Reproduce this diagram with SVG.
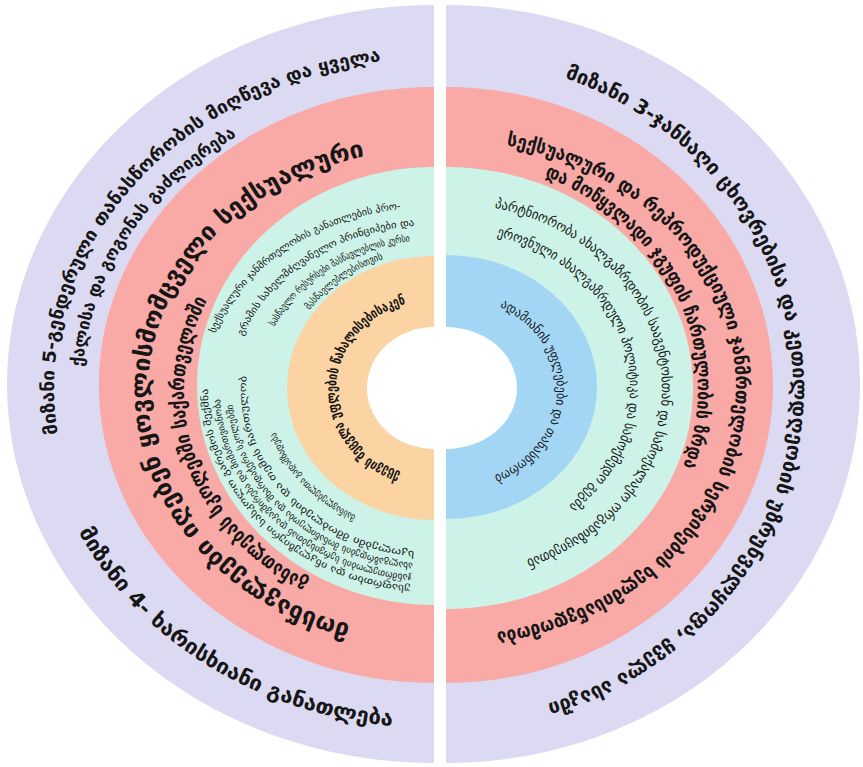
<svg xmlns="http://www.w3.org/2000/svg" width="863" height="767" viewBox="0 0 863 767">
<style>
.t{font-family:"DejaVu Sans","Noto Sans",sans-serif;fill:#161616;}
.b{font-weight:bold;}
.lav{fill:#dcd9f2;}
.pnk{fill:#f9a9a6;}
.tea{fill:#cdf3e8;}
.org{fill:#fcd4a3;}
.blu{fill:#a3d6f5;}
.wht{fill:#ffffff;}
</style>
<defs>
<path id="pL1" d="M 57.7 433.9 A 380 330 0 0 1 381.1 61.2"/>
<path id="pL2" d="M 82.8 366.8 A 352 304 0 0 1 237.2 136"/>
<path id="pL3" d="M 78.7 531.7 A 392 340 0 0 0 393 726.1"/>
<path id="pL4" d="M 350.4 624.4 A 286 243 0 0 1 364.8 156.2"/>
<path id="pL5" d="M 309 580.8 A 250 218 0 0 1 207.4 299.9"/>
<path id="pL6" d="M 400 474.4 A 98 90 0 0 1 405 304"/>
<path id="pT1" d="M 215.2 333.5 A 230 183 0 0 1 408 208.2"/>
<path id="pT2" d="M 243 336.3 A 202 165 0 0 1 419.9 225.4"/>
<path id="pT3" d="M 274.5 326.6 A 176 150 0 0 1 414.1 241"/>
<path id="pT4" d="M 309.5 310.3 A 152 139 0 0 1 384.5 258.6"/>
<path id="pB1" d="M 356.1 515.4 A 166 142 0 0 1 276.1 433.9"/>
<path id="pB2" d="M 414.4 551.1 A 188 162 0 0 1 247 373.1"/>
<path id="pB3" d="M 412.9 563 A 202 174 0 0 1 232.5 402.1"/>
<path id="pB4" d="M 411.6 575 A 214 186 0 0 1 220.1 396.5"/>
<path id="pB5" d="M 410.4 585.9 A 226 197 0 0 1 208 386.6"/>
<path id="pR1" d="M 564.7 77.9 A 347 330 0 0 1 547.5 703.6"/>
<path id="pR2" d="M 506.3 145.4 A 290 248 0 0 1 496.3 632.2"/>
<path id="pR3" d="M 544.5 176.3 A 252 230 0 0 1 682.8 466.7"/>
<path id="pR4" d="M 494.6 207.7 A 216 185 0 0 1 526.9 559.5"/>
<path id="pR5" d="M 496.7 236.1 A 184 158 0 0 1 569.1 505.4"/>
<path id="pR6" d="M 499.8 306.9 A 111 95 0 0 1 494.7 475.4"/>
</defs>
<rect width="863" height="767" fill="#ffffff"/>

<g id="goal5-left">
<path class="lav" d="M 434 5 A 427 379 0 0 0 434 763 Z"/>
<text class="t b" font-size="18"><textPath href="#pL1" textLength="551" lengthAdjust="spacingAndGlyphs">მიზანი 5-გენდერული თანასწორობის მიღწევა და ყველა</textPath></text>
<text class="t b" font-size="17"><textPath href="#pL2" textLength="288" lengthAdjust="spacingAndGlyphs">ქალისა და გოგონას გაძლიერება</textPath></text>
<text class="t b" font-size="21"><textPath href="#pL3" textLength="384" lengthAdjust="spacingAndGlyphs">მიზანი 4- ხარისხიანი განათლება</textPath></text>
</g>

<g id="outcome-left">
<path class="pnk" d="M 434 87 A 334 297 0 0 0 434 683 Z"/>
<text class="t b" font-size="24"><textPath href="#pL4" textLength="678" lengthAdjust="spacingAndGlyphs">მოსწავლეები იღებენ ყოვლისმომცველი სექსუალური</textPath></text>
<text class="t b" font-size="20"><textPath href="#pL5" textLength="334" lengthAdjust="spacingAndGlyphs">განათლებას სკოლებში საქართველოში</textPath></text>
</g>

<g id="outputs-left">
<path class="tea" d="M 434 167 A 237 219 0 0 0 434 605 Z"/>
<text class="t" font-size="10"><textPath href="#pT1" textLength="234" lengthAdjust="spacingAndGlyphs">სექსუალური ჯანმრთელობის განათლების პრო-</textPath></text>
<text class="t" font-size="10"><textPath href="#pT2" textLength="214" lengthAdjust="spacingAndGlyphs">გრამის სახელმძღვანელო პრინციპები და</textPath></text>
<text class="t" font-size="10"><textPath href="#pT3" textLength="166" lengthAdjust="spacingAndGlyphs">სასწავლო რესურსები მასწავლებლის კურსი</textPath></text>
<text class="t" font-size="10"><textPath href="#pT4" textLength="91" lengthAdjust="spacingAndGlyphs">მასწავლებლებისთვის</textPath></text>
<text class="t" font-size="9.5"><textPath href="#pB1" textLength="119" lengthAdjust="spacingAndGlyphs">მასწავლებელთა გადამზადება</textPath></text>
<text class="t" font-size="9.5"><textPath href="#pB2" textLength="276" lengthAdjust="spacingAndGlyphs">სკოლებში მშობლების და თემის ჩართულობა</textPath></text>
<text class="t" font-size="9.5"><textPath href="#pB3" textLength="260" lengthAdjust="spacingAndGlyphs">ახალგაზრდების მონაწილეობა და მხარდაჭერა სკოლებში</textPath></text>
<text class="t" font-size="9.5"><textPath href="#pB4" textLength="283" lengthAdjust="spacingAndGlyphs">ჯანმრთელობის სერვისებთან დაკავშირება და მიმართვიანობა</textPath></text>
<text class="t" font-size="9.5"><textPath href="#pB5" textLength="310" lengthAdjust="spacingAndGlyphs">უსაფრთხო და ინკლუზიური სასკოლო გარემოს შექმნა</textPath></text>
</g>

<g id="core-left">
<path class="org" d="M 434 256 A 147 132 0 0 0 434 520 Z"/>
<text class="t b" font-size="14"><textPath href="#pL6" textLength="232" lengthAdjust="spacingAndGlyphs">ქცევის შეცვლა უფლების წახალისებისაკენ</textPath></text>
<path class="wht" d="M 434 327 A 67 61 0 0 0 434 449 Z"/>
</g>

<g id="goal3-right">
<path class="lav" d="M 446 5 A 414 379 0 0 1 446 763 Z"/>
<text class="t b" font-size="20"><textPath href="#pR1" textLength="840" lengthAdjust="spacingAndGlyphs">მიზანი 3-ჯანსაღი ცხოვრებისა და კეთილდღეობის უზრუნველყოფა, ყველა ასაკში</textPath></text>
</g>

<g id="outcome-right">
<path class="pnk" d="M 446 87 A 327 298 0 0 1 446 683 Z"/>
<text class="t b" font-size="19"><textPath href="#pR2" textLength="735" lengthAdjust="spacingAndGlyphs">სექსუალური და რეპროდუქციული ჯანმრთელობის სერვისების ხელმისაწვდომობა</textPath></text>
<text class="t b" font-size="19"><textPath href="#pR3" textLength="358" lengthAdjust="spacingAndGlyphs">და მოწყვლადი ჯგუფის ჩართულობის ზრდა</textPath></text>
</g>

<g id="outputs-right">
<path class="tea" d="M 446 167 A 247 221 0 0 1 446 609 Z"/>
<text class="t" font-size="14"><textPath href="#pR4" textLength="500" lengthAdjust="spacingAndGlyphs">პარტნიორობა ახალგაზრდობის სააგენტოსთან და სამოქალაქო ორგანიზაციებთან</textPath></text>
<text class="t" font-size="14"><textPath href="#pR5" textLength="355" lengthAdjust="spacingAndGlyphs">ეროვნული ახალგაზრდული პოლიტიკა და სამოქმედო გეგმა</textPath></text>
</g>

<g id="core-right">
<path class="blu" d="M 446 255 A 151 132 0 0 1 446 519 Z"/>
<text class="t" font-size="13"><textPath href="#pR6" textLength="225" lengthAdjust="spacingAndGlyphs">ადამიანის უფლებები და თანასწორობა</textPath></text>
<path class="wht" d="M 446 327 A 71 61 0 0 1 446 449 Z"/>
</g>
</svg>
